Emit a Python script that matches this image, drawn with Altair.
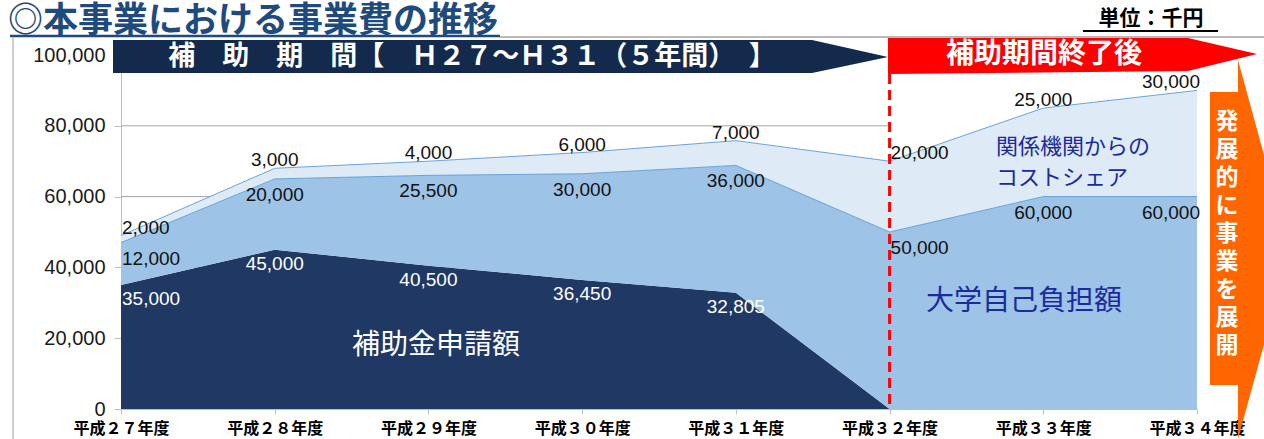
import altair as alt
import pandas as pd

# ---------------- data ----------------
years = ["平成２７年度", "平成２８年度", "平成２９年度", "平成３０年度",
         "平成３１年度", "平成３２年度", "平成３３年度", "平成３４年度"]
subsidy = [35000, 45000, 40500, 36450, 32805, 0, 0, 0]          # 補助金申請額
university = [12000, 20000, 25500, 30000, 36000, 50000, 60000, 60000]  # 大学自己負担額
cost_share = [2000, 3000, 4000, 6000, 7000, 20000, 25000, 30000]    # 関係機関からのコストシェア
series_names = ["補助金申請額", "大学自己負担額", "関係機関からのコストシェア"]
y_ticks = [0, 20000, 40000, 60000, 80000, 100000]
grid_values = [20000, 40000, 60000, 80000]

# ---------------- styling ----------------
NAVY = "#203864"
MID = "#9DC3E6"
LIGHT = "#DEEBF7"
EDGE = "#5B9BD5"
JP = "Noto Sans CJK JP"
NUM = "Liberation Sans"
TXT_BLUE = "#1B2A9C"

OX, OY = 121, 55          # plot origin in the page
W, H = 1076, 354          # plot area

rows = []
for i, (name, vals) in enumerate(zip(series_names, [subsidy, university, cost_share])):
    for j, y in enumerate(years):
        top = sum([subsidy, university, cost_share][k][j] for k in range(i + 1))
        rows.append({"year": y, "series": name, "value": vals[j], "order": i,
                     "top": top, "label": f"{vals[j]:,}"})
df = pd.DataFrame(rows)
one = pd.DataFrame({"a": [0]})

XAX = alt.Axis(title=None, labelFont=JP, labelFontSize=16, labelFontWeight="bold",
               labelColor="#000", labelAngle=0, labelAlign="center", labelBaseline="top",
               labelPadding=6, tickSize=5, labelOverlap=False,
               tickColor="#BFBFBF", domainColor="#BFBFBF", grid=False)
YAX = alt.Axis(title=None, values=y_ticks, format=",d", labelFont=NUM, labelFontSize=20,
               labelColor="#1a1a1a", tickSize=7, tickColor="#BFBFBF", domainColor="#BFBFBF",
               labelPadding=9, grid=False)
xscale = alt.Scale(type="point", padding=0)
yscale = alt.Scale(domain=[0, 100000], nice=False)
xenc = alt.X("year:N", sort=years, scale=xscale, axis=XAX)

# gridlines (only up to the end of the subsidy period)
grid = alt.Chart(pd.DataFrame({"g": grid_values})).mark_rule(color="#A6A6A6", strokeWidth=1).encode(
    y=alt.Y("g:Q", scale=yscale, axis=YAX),
    x=alt.datum(years[0]), x2=alt.datum(years[5]))

area = alt.Chart(df).mark_area(interpolate="linear", opacity=1).encode(
    x=xenc,
    y=alt.Y("value:Q", stack="zero", scale=yscale, axis=YAX),
    color=alt.Color("series:N", scale=alt.Scale(domain=series_names, range=[NAVY, MID, LIGHT]),
                    legend=None),
    order=alt.Order("order:Q"))

edges = alt.Chart(df).transform_filter(
    alt.FieldOneOfPredicate(field="series", oneOf=series_names[1:])
).mark_line(color=EDGE, strokeWidth=1, opacity=0.9).encode(
    x=xenc, y=alt.Y("top:Q", scale=yscale, axis=YAX), detail="series:N")


def labels(series, color, dy, align, dx, subset):
    return alt.Chart(df).transform_filter(
        alt.FieldEqualPredicate(field="series", equal=series)
    ).transform_filter(
        alt.FieldOneOfPredicate(field="year", oneOf=subset)
    ).transform_filter("datum.value > 0").mark_text(
        font=NUM, fontSize=19, color=color, dy=dy, dx=dx, align=align, baseline="middle"
    ).encode(x=xenc, y=alt.Y("top:Q", scale=yscale, axis=YAX), text="label:N")


left_set = [years[0], years[5]]
mid_set = [years[1], years[2], years[3], years[4], years[6]]
right_set = [years[7]]
label_layers = []
for s, c, dy in [(series_names[0], "white", 14), (series_names[1], "#111", 16), (series_names[2], "#111", -8)]:
    label_layers.append(labels(s, c, dy, "left", 1, left_set))
    label_layers.append(labels(s, c, dy, "center", 0, mid_set))
    label_layers.append(labels(s, c, dy, "right", 3, right_set))


def T(text, x, y, size, color, weight="normal", align="left", baseline="middle", font=JP, **kw):
    return alt.Chart(one).mark_text(text=text, fontSize=size, color=color, fontWeight=weight,
                                    align=align, baseline=baseline, font=font, **kw).encode(
        x=alt.value(x - OX), y=alt.value(y - OY))


def R(x1, y1, x2, y2, color, width, dash=None):
    kw = {"strokeDash": dash} if dash else {}
    return alt.Chart(one).mark_rule(color=color, strokeWidth=width, **kw).encode(
        x=alt.value(x1 - OX), x2=alt.value(x2 - OX), y=alt.value(y1 - OY), y2=alt.value(y2 - OY))


def P(points, color):
    path = "M" + " L".join(f"{x - OX},{y - OY}" for x, y in points) + " Z"
    return alt.Chart(one).mark_point(shape=path, size=4, filled=True, color=color, opacity=1,
                                     strokeWidth=0).encode(x=alt.value(0), y=alt.value(0))


# dashed separator at the end of the subsidy period
sep = alt.Chart(one).mark_rule(color="#FF0000", strokeWidth=3, strokeDash=[10, 6]).encode(
    x=alt.datum(years[5]), y=alt.value(74 - OY), y2=alt.value(H))

deco = [
    T("◎本事業における事業費の推移", 8, 21, 35, "#1F4A7E", weight="bold"),
    R(10, 36, 500, 36, "#1F4A7E", 2.5),
    R(500, 37, 1264, 37, "#A0A0A0", 1.5),
    R(13, 37, 13, 439, "#BFBFBF", 1.5),
    T("単位：千円", 1151, 19, 21, "#000", weight="bold", align="center"),
    R(1083, 31, 1218, 31, "#000", 2),
    P([(113, 40), (812, 40), (888, 57), (812, 73), (113, 73)], "#132A4C"),
    T("補　助　期　間【　Ｈ２７～Ｈ３１（５年間）　】", 472, 57, 27, "white", weight="bold",
      align="center"),
    P([(888, 38), (1188, 38), (1257, 54), (1188, 71), (888, 74)], "#FF0000"),
    T("補助期間終了後", 1044, 55, 28, "white", weight="bold", align="center"),
    P([(1210, 92), (1238, 92), (1238, 60), (1290, 250), (1238, 439), (1238, 385), (1210, 385)],
      "#FF6600"),
    T("\n".join("発展的に事業を展開"), 1227, 111, 23, "white", weight="bold", align="center",
      baseline="top", lineBreak="\n", lineHeight=28),
    T("補助金申請額", 436, 346, 28, "white", align="center"),
    T("大学自己負担額", 1024, 302, 28, TXT_BLUE, align="center"),
    T("関係機関からの\nコストシェア", 996, 147, 22, TXT_BLUE, align="left", baseline="middle",
      lineBreak="\n", lineHeight=31),
]

chart = alt.layer(grid, area, edges, *label_layers, sep, *deco).properties(
    width=W, height=H,
    padding={"left": OX, "top": OY, "right": 1264 - OX - W, "bottom": 439 - OY - H},
    autosize=alt.AutoSizeParams(type="none"),
    background="white",
).configure_view(stroke=None)

chart.save("out.html", embed_options={"renderer": "svg", "actions": False})
